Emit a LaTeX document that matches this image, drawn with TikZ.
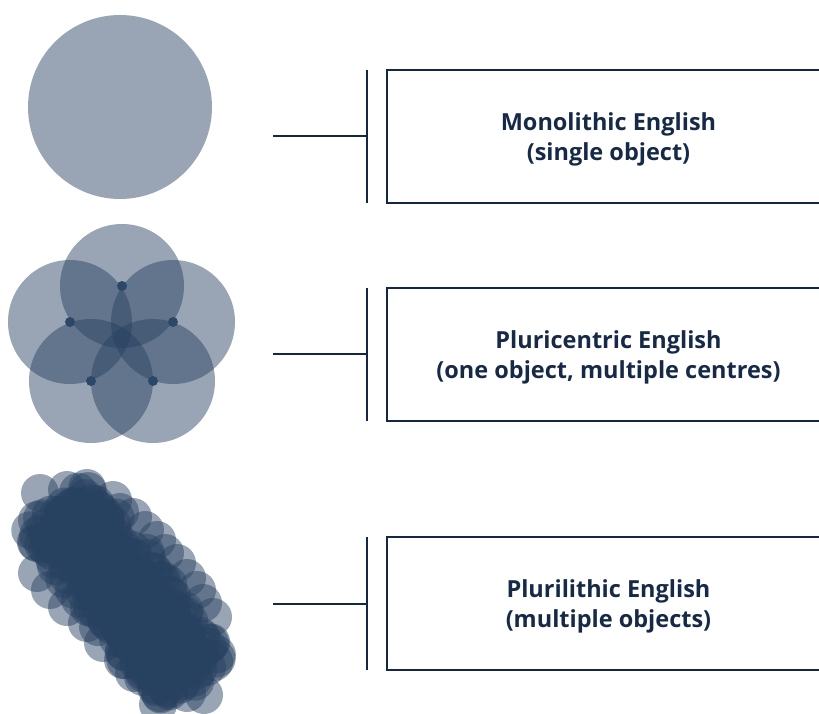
\documentclass[tikz,border=0pt]{standalone}
\usepackage{fontspec}
\setmainfont{Open Sans}
\definecolor{navy}{RGB}{20,40,70}
\definecolor{blob}{RGB}{38,64,95}
\definecolor{dotc}{RGB}{44,72,104}
\definecolor{txt}{RGB}{22,42,72}
\begin{document}
\begin{tikzpicture}[x=1pt,y=-1pt,
  line/.style={draw=navy, line width=2.6pt},
  lab/.style={font=\bfseries\fontsize{23.5}{30}\selectfont, text=txt, align=center},
  box/.style={draw=navy, line width=2.6pt, minimum width=443pt, minimum height=133pt, inner sep=0pt},
  disc/.style={fill=blob, fill opacity=0.47},
  hub/.style={fill=dotc}]
\useasboundingbox (0,0) rectangle (819,714);
\clip (0,0) rectangle (819,714);

% monolithic
\fill[disc] (120,107) circle (92);

% pluricentric
\foreach \x/\y in {122/286, 70/322, 173/322, 91/381, 153/381}
  \fill[disc] (\x,\y) circle (62);
\foreach \x/\y in {122/286, 70/322, 173/322, 91/381, 153/381}
  \fill[hub] (\x,\y) circle (5);

% plurilithic
\foreach \x/\y in {40/493, 67/490, 87/488, 37/520, 37/543, 37/573, 50/590, 67/607, 87/623,
  103/643, 123/660, 143/677, 160/693, 187/693, 204/695, 213/617, 197/590, 177/563,
  157/540, 133/517, 113/500, 210/643, 207/667, 120/512, 145/530, 165/553, 187/578, 203/603}
  \fill[disc] (\x,\y) circle (19);
\pgfmathsetseed{7}
\foreach \t in {0,0.03,...,1.0}
  \foreach \s in {-34,-22,-11,0,11,22,34}{
    \pgfmathsetmacro{\jx}{7*rand}
    \pgfmathsetmacro{\jy}{7*rand}
    \fill[disc] ({58+134*\t+0.79*\s+\jx},{508+172*\t-0.61*\s+\jy}) circle (19);
  }

% boxes and labels
\node[box] (b1) at (608.5,136.5) {};
\node[box] (b2) at (608.5,354.5) {};
\node[box] (b3) at (608.5,603.5) {};
\node[lab, yshift=-3pt] (l1) at (b1.center) {Monolithic English\\(single object)};
\node[lab, yshift=-3pt] (l2) at (b2.center) {Pluricentric English\\(one object, multiple centres)};
\node[lab, yshift=-3pt] (l3) at (b3.center) {Plurilithic English\\(multiple objects)};

% connectors
\foreach \n/\yt/\yb/\ym in {1/70/203/136, 2/288/421/354, 3/537/670/604}{
  \coordinate (t\n) at (367,\yt);
  \coordinate (u\n) at (367,\yb);
  \coordinate (s\n) at (273,\ym);
  \draw[line] (t\n) -- (u\n);
  \draw[line] (s\n) -- (s\n -| t\n);
}
\end{tikzpicture}
\end{document}
